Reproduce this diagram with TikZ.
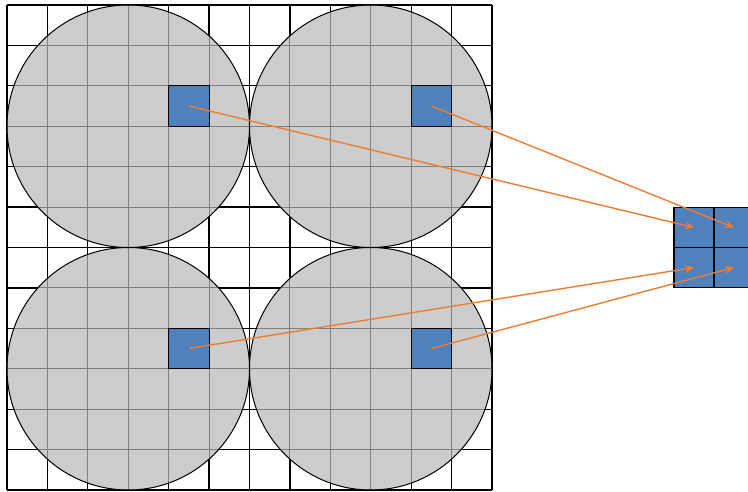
\documentclass[tikz,border=0pt]{standalone}
\usetikzlibrary{arrows.meta}
\definecolor{cgray}{RGB}{204,204,204}
\definecolor{cblue}{RGB}{79,129,189}
\definecolor{corange}{RGB}{237,125,49}
\tikzset{
  cell/.style={draw=black, line width=1.1pt, fill=cblue, minimum width=40.4pt, minimum height=40.4pt, inner sep=0pt, outer sep=0pt},
  tcell/.style={draw=black, line width=1.1pt, fill=cblue, minimum width=40pt, minimum height=40pt, inner sep=0pt, outer sep=0pt},
  arr/.style={corange, line width=1.4pt, -{Stealth[length=9pt,width=8pt]}},
  disc/.style={draw=black, line width=1pt},
  glines/.pic={
    \foreach \i in {0,...,12}{
      \draw (7+40.4167*\i,5) -- (7+40.4167*\i,490);
      \draw (7,5+40.4167*\i) -- (492,5+40.4167*\i);
    }
  }
}
\begin{document}
\begin{tikzpicture}[x=1pt,y=-1pt]
\useasboundingbox[fill=white] (0,0) rectangle (748,492);
% outer grid
\begin{scope}[black, line width=1.2pt]
  \foreach \i in {0,...,12}{
    \draw (7+40.4167*\i,5) -- (7+40.4167*\i,490);
    \draw (7,5+40.4167*\i) -- (492,5+40.4167*\i);
  }
\end{scope}
% circles
\foreach \cx/\cy in {128.25/126.25, 370.75/126.25, 128.25/368.75, 370.75/368.75}{
  \fill[cgray] (\cx,\cy) circle (121.25);
  \begin{scope}
    \clip (\cx,\cy) circle (121.25);
    \foreach \i in {0,...,12}{
      \draw[gray, line width=1.1pt] (7+40.4167*\i,5) -- (7+40.4167*\i,490);
      \draw[gray, line width=1.1pt] (7,5+40.4167*\i) -- (492,5+40.4167*\i);
    }
  \end{scope}
}
% source squares
\node[cell] (s1) at (188.9,106.0) {};
\node[cell] (s2) at (431.5,106.0) {};
\node[cell] (s3) at (188.9,348.5) {};
\node[cell] (s4) at (431.5,348.5) {};
% circle outlines
\foreach \cx/\cy in {128.25/126.25, 370.75/126.25, 128.25/368.75, 370.75/368.75}{
  \draw[disc] (\cx,\cy) circle (121.25);
}
% target squares
\node[tcell] (t1) at (694,227.5) {};
\node[tcell] (t2) at (734,227.5) {};
\node[tcell] (t3) at (694,267.5) {};
\node[tcell] (t4) at (734,267.5) {};
% arrows
\draw[arr] (s1.center) -- (t1.center);
\draw[arr] (s2.center) -- (t2.center);
\draw[arr] (s3.center) -- (t3.center);
\draw[arr] (s4.center) -- (t4.center);
\end{tikzpicture}
\end{document}
